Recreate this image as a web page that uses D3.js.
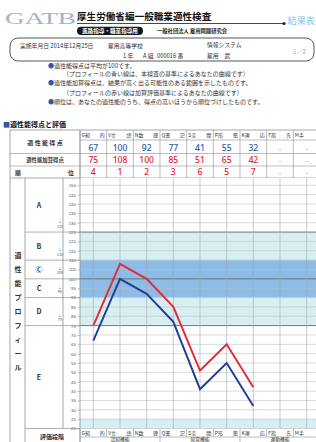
<!DOCTYPE html>
<html><head><meta charset="utf-8">
<script src="https://cdn.jsdelivr.net/npm/d3@7"></script>
<style>
html,body{margin:0;padding:0;background:#fff;}
svg{display:block;font-family:"Noto Sans CJK JP","Noto Sans",sans-serif;}
</style></head>
<body>
<script>
// ---- data ----
const codes = ["G","V","N","Q","S","P","K","F","M"];
const codeNames = ["知　的","言　語","数　理","書　記","空　間","形　態","運　応","指　先","手　腕"];
const scores = [67,100,92,77,41,55,32,null,null];
const addedScores = [75,108,100,85,51,65,42,null,null];
const ranks = [4,1,2,3,6,5,7,null,null];
const yTicks = d3.range(20,151,5);
const levels = ["A","B","Ⓒ","C","D","E"];
const levelCuts = [125,110,100,90,75];
const groups = ["認知機能","知覚機能","運動機能"];
const notes = [
 "●適性能得点は平均が100です。",
 "（プロフィールの青い線は、本検査の基準によるあなたの曲線です）",
 "●適性能加算得点は、結果が高く出る可能性のある範囲を示したものです。",
 "（プロフィールの赤い線は加算評価基準によるあなたの曲線です）",
 "●順位は、あなたの適性能のうち、得点の高いほうから順位づけしたものです。"
];

const W=316,H=442;
const svg=d3.select("body").append("svg").attr("width",W).attr("height",H);
svg.append("rect").attr("width",W).attr("height",H).attr("fill","#fff");

const TXT="#333", GRID="#b9c0c6", MAJOR="#6d757b", BORDER="#8a9096";
const BLUE="#1f3d96", RED="#e02a36";

// ---- header ----
svg.append("text").attr("x",5).attr("y",24).text("GATB")
 .attr("font-family","Liberation Serif, serif").attr("font-size",17)
 .attr("textLength",71).attr("lengthAdjust","spacingAndGlyphs").attr("fill","#a3b2c8");
svg.append("text").attr("x",77).attr("y",20).text("厚生労働省編一般職業適性検査")
 .attr("font-size",9.6).attr("font-weight","bold").attr("fill","#111");
svg.append("line").attr("x1",77).attr("x2",284).attr("y1",23.5).attr("y2",23.5).attr("stroke","#333").attr("stroke-width",0.9);
svg.append("circle").attr("cx",284).attr("cy",23.5).attr("r",1.6).attr("fill","#222");
svg.append("text").attr("x",287.5).attr("y",23.5).text("結果表").attr("font-size",9.2).attr("fill","#86c6e6");
svg.append("rect").attr("x",77).attr("y",26.8).attr("width",66).attr("height",8.2).attr("rx",4.1).attr("fill","#151515");
svg.append("text").attr("x",110).attr("y",33.2).attr("text-anchor","middle").text("進路指導・職業指導用")
 .attr("font-size",5.6).attr("font-weight","bold").attr("fill","#fff");
svg.append("text").attr("x",157).attr("y",33).text("一般社団法人 雇用問題研究会").attr("font-size",5.3).attr("font-weight","bold").attr("fill","#222");

// info box
svg.append("rect").attr("x",10).attr("y",38).attr("width",304).attr("height",23).attr("rx",8)
 .attr("fill","none").attr("stroke","#444").attr("stroke-width",0.9);
const info=[[20,47.5,"実施年月日 2014年12月25日"],[108,47.5,"雇用高等学校"],[207,47,"情報システム"],
 [123,57.5,"1 年"],[143,57.5,"A 組"],[157,57.5,"000016 番"],[207,57.5,"雇用　武"]];
info.forEach(d=>svg.append("text").attr("x",d[0]).attr("y",d[1]).text(d[2]).attr("font-size",5.8).attr("fill",TXT));
svg.append("text").attr("x",293).attr("y",54).text("1／2").attr("font-size",6.2).attr("fill","#9aa");

// notes
const noteX=[48,63,48,63,48], noteY=[67.8,76.2,85.3,94.8,104.2];
notes.forEach((t,i)=>{
 const tx=svg.append("text").attr("x",noteX[i]).attr("y",noteY[i]).attr("font-size",6).attr("fill",TXT);
 if(t[0]==="●"){tx.append("tspan").text("●").attr("fill","#2a5caa");tx.append("tspan").text(t.slice(1));}
 else tx.text(t);
});

// section heading
const hd=svg.append("text").attr("x",3).attr("y",127).attr("font-size",7).attr("font-weight","bold").attr("fill","#111");
hd.append("tspan").text("■").attr("fill","#2a5caa"); hd.append("tspan").text("適性能得点と評価");

// ---- scales ----
const x=d3.scaleBand().domain(codes).range([80,320]);
const bw=x.bandwidth();
const cx=c=>x(c)+bw/2;
const y=d3.scaleLinear().domain([20,150]).range([428.5,185.3]);
const plotTop=178, plotBot=y(20);

function colLabel(g,c,i,yy){
 g.append("text").attr("x",x(c)+1.5).attr("y",yy).text(c+codeNames[i][0]).attr("font-size",5).attr("fill",TXT);
 if(x(c)+bw-2<=W) g.append("text").attr("x",x(c)+bw-2).attr("y",yy).attr("text-anchor","end").text(codeNames[i].slice(-1)).attr("font-size",5).attr("fill",TXT);
}

// ---- score table ----
const tb=svg.append("g");
codes.forEach((c,i)=>colLabel(tb,c,i,137));
const rowVals=[[scores,"#2f5aa8",150.5],[addedScores,"#d8252f",163],[ranks,"#d8252f",175]];
rowVals.forEach(([arr,col,yy])=>{
 codes.forEach((c,i)=>{
  const v=arr[i];
  tb.append("text").attr("x",cx(c)).attr("y",yy).attr("text-anchor","middle")
   .text(v==null?"－":v).attr("font-size",v==null?5.5:8.6).attr("font-weight",500)
   .attr("font-family","Noto Sans, sans-serif")
   .attr("fill",v==null?"#777":col);
 });
});
tb.append("text").attr("x",45).attr("y",144.5).attr("text-anchor","middle").text("適 性 能 得 点").attr("font-size",6).attr("font-weight","bold").attr("fill",TXT);
tb.append("text").attr("x",45).attr("y",162).attr("text-anchor","middle").text("適性能加算得点").attr("font-size",5.4).attr("font-weight","bold").attr("fill",TXT);
tb.append("text").attr("x",15).attr("y",174.5).text("順").attr("font-size",5.8).attr("font-weight","bold").attr("fill",TXT);
tb.append("text").attr("x",68).attr("y",174.5).text("位").attr("font-size",5.8).attr("font-weight","bold").attr("fill",TXT);
[130,178].forEach(yy=>tb.append("line").attr("x1",10).attr("x2",W).attr("y1",yy).attr("y2",yy).attr("stroke",BORDER).attr("stroke-width",0.8));
tb.append("line").attr("x1",80).attr("x2",W).attr("y1",140).attr("y2",140).attr("stroke",BORDER).attr("stroke-width",0.6);
[153.5,166].forEach(yy=>tb.append("line").attr("x1",10).attr("x2",W).attr("y1",yy).attr("y2",yy).attr("stroke",BORDER).attr("stroke-width",0.6));
codes.forEach(c=>tb.append("line").attr("x1",x(c)).attr("x2",x(c)).attr("y1",130).attr("y2",178).attr("stroke",BORDER).attr("stroke-width",0.6));

// ---- profile plot ----
const bands=[[150,154,"#ffffff"],[125,150,"#ffffff"],[110,125,"#d8eff2"],[90,110,"#8dbde6"],[75,90,"#d8eff2"],[25,75,"#ffffff"],[20,25,"#d8eff2"]];
const pg=svg.append("g");
bands.forEach(([a,b,col])=>{
 const yt=Math.max(y(b),plotTop);
 pg.append("rect").attr("x",80).attr("width",W-80).attr("y",yt).attr("height",y(a)-yt).attr("fill",col);
});
yTicks.forEach(v=>{
 const major=(v===125||v===100||v===75);
 pg.append("line").attr("x1",80).attr("x2",W).attr("y1",y(v)).attr("y2",y(v))
  .attr("stroke",major?MAJOR:GRID).attr("stroke-width",major?1:0.6);
});
codes.forEach(c=>pg.append("line").attr("x1",cx(c)).attr("x2",cx(c)).attr("y1",plotTop).attr("y2",plotBot).attr("stroke","#9ea7ae").attr("stroke-width",0.6));

const ax=svg.append("g").attr("transform","translate(80,0)")
 .call(d3.axisLeft(y).tickValues(yTicks).tickSize(2.5).tickPadding(1.5).tickSizeOuter(0));
ax.select(".domain").remove();
ax.selectAll("text").attr("font-size",4.4).attr("fill","#555").attr("font-family","Liberation Sans, sans-serif");
ax.selectAll("line").attr("stroke","#888").attr("stroke-width",0.5);

const lineGen=d3.line().defined(d=>d.v!=null).x(d=>cx(d.c)).y(d=>y(d.v));
pg.append("path").datum(codes.map((c,i)=>({c,v:addedScores[i]}))).attr("d",lineGen)
 .attr("fill","none").attr("stroke",RED).attr("stroke-width",1.9);
pg.append("path").datum(codes.map((c,i)=>({c,v:scores[i]}))).attr("d",lineGen)
 .attr("fill","none").attr("stroke",BLUE).attr("stroke-width",1.9);

// left label column
const lg=svg.append("g");
const bounds=[plotTop,...levelCuts.map(v=>y(v)),plotBot];
levels.forEach((L,i)=>{
 const t=bounds[i], b=bounds[i+1];
 lg.append("text").attr("x",39).attr("y",(t+b)/2+2.5).attr("text-anchor","middle").text(L).attr("font-size",7).attr("font-weight","bold").attr("fill",TXT);
 if(i<levelCuts.length){
  lg.append("text").attr("x",60).attr("y",b-9).attr("text-anchor","middle").text("↓").attr("font-size",3.8).attr("fill","#555");
  lg.append("text").attr("x",60).attr("y",b-4.5).attr("text-anchor","middle").text(levelCuts[i]).attr("font-size",4).attr("fill","#555");
 }
});
bounds.slice(1).forEach(yy=>lg.append("line").attr("x1",25).attr("x2",80).attr("y1",yy).attr("y2",yy).attr("stroke",BORDER).attr("stroke-width",0.7));
[[10,130,446],[25,178,446],[63,178,plotBot],[80,130,446]].forEach(([xx,a,b])=>
 lg.append("line").attr("x1",xx).attr("x2",xx).attr("y1",a).attr("y2",b).attr("stroke",BORDER).attr("stroke-width",0.8));
const vt="適性能プロフィール".split("");
vt.forEach((ch,i)=>lg.append("text").attr("x",18).attr("y",258+i*14).attr("text-anchor","middle").text(ch).attr("font-size",7).attr("font-weight","bold").attr("fill",TXT));

// bottom label rows
const bg=svg.append("g");
bg.append("line").attr("x1",80).attr("x2",W).attr("y1",437).attr("y2",437).attr("stroke",BORDER).attr("stroke-width",0.6);
codes.forEach((c,i)=>{
 colLabel(bg,c,i,435);
 bg.append("line").attr("x1",x(c)).attr("x2",x(c)).attr("y1",plotBot).attr("y2",437).attr("stroke",BORDER).attr("stroke-width",0.6);
});
groups.forEach((g,i)=>{
 const a=x(codes[i*3]), b=Math.min(x(codes[i*3+2])+bw,W+4);
 bg.append("text").attr("x",(a+b)/2).attr("y",441.2).attr("text-anchor","middle").text(g).attr("font-size",4.8).attr("fill",TXT);
 bg.append("line").attr("x1",a).attr("x2",a).attr("y1",437).attr("y2",446).attr("stroke",BORDER).attr("stroke-width",0.6);
});
bg.append("text").attr("x",52).attr("y",439).attr("text-anchor","middle").text("評価段階").attr("font-size",6).attr("font-weight","bold").attr("fill",TXT);
</script>
</body></html>
